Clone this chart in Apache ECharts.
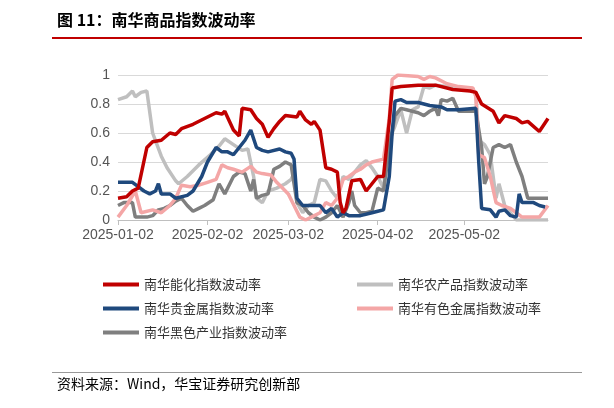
<!DOCTYPE html><html><head><meta charset="utf-8">
<script src="https://cdn.jsdelivr.net/npm/echarts@6/dist/echarts.min.js"></script>
<style>body{margin:0}#c{width:614px;height:408px}</style></head><body><div id="c"></div>
<script>
const tickDays=[0,31,59,90,120];
const tickLabels=['2025-01-02','2025-02-02','2025-03-02','2025-04-02','2025-05-02'];
const names=['南华能化指数波动率','南华农产品指数波动率','南华贵金属指数波动率','南华有色金属指数波动率','南华黑色产业指数波动率'];
const colors=['#C00000','#BFBFBF','#1F497D','#F4A6A6','#7F7F7F'];
const energy=[[0,.15],[3,.16],[5,.2],[7,.22],[10,.5],[12,.54],[15,.55],[18,.6],[20,.59],[22,.63],[26,.66],[30,.7],[34,.74],[36,.73],[37,.75],[40,.62],[42,.58],[43,.77],[46,.76],[48,.7],[50,.66],[52,.57],[54,.63],[56,.68],[58,.72],[62,.71],[63,.75],[65,.69],[67,.66],[68,.68],[70,.62],[72,.36],[74,.35],[76,.33],[77,.12],[78,.05],[79,.08],[81,.27],[84,.28],[86,.2],[88,.25],[90,.3],[92,.3],[94,.68],[95,.91],[98,.92],[104,.93],[110,.93],[116,.9],[122,.89],[124,.88],[126,.8],[130,.75],[132,.67],[134,.72],[138,.7],[140,.67],[142,.68],[146,.61],[149,.7]];
const agri=[[0,.83],[3,.85],[5,.89],[6,.85],[8,.88],[10,.89],[12,.6],[15,.44],[17,.36],[20,.27],[21,.25],[24,.3],[28,.38],[32,.45],[35,.51],[37,.56],[40,.52],[43,.48],[45,.49],[47,.3],[48,.15],[50,.12],[52,.2],[55,.22],[58,.25],[60,.28],[61,.32],[62,.12],[64,.05],[66,.1],[68,.12],[70,.28],[72,.27],[74,.2],[76,.15],[78,.3],[80,.28],[82,.33],[84,.38],[86,.41],[88,.36],[90,.3],[92,.22],[94,.55],[96,.65],[98,.76],[100,.6],[102,.76],[104,.78],[106,.92],[108,.91],[110,.93],[114,.92],[118,.91],[122,.9],[124,.88],[125,.55],[127,.52],[129,.45],[131,.15],[132,.25],[134,.1],[136,.05],[138,0],[149,0]];
const precious=[[0,.26],[5,.26],[7,.23],[9,.2],[11,.18],[13,.2],[14,.25],[15,.18],[18,.18],[20,.15],[24,.17],[26,.2],[29,.3],[31,.4],[34,.5],[36,.47],[38,.47],[40,.45],[42,.5],[44,.55],[46,.62],[48,.5],[50,.48],[52,.47],[56,.49],[58,.47],[60,.46],[61,.42],[62,.15],[64,.1],[66,.1],[68,.1],[70,.1],[72,.05],[74,.08],[76,.02],[78,.05],[80,.03],[84,.03],[88,.05],[90,.06],[92,.07],[94,.3],[95,.6],[96,.82],[98,.83],[100,.81],[104,.81],[108,.79],[112,.78],[114,.76],[118,.76],[124,.77],[125,.4],[126,.08],[129,.07],[131,.02],[132,.06],[134,.07],[136,.03],[138,.02],[139,.18],[140,.12],[144,.12],[146,.1],[148,.09]];
const nonferrous=[[0,.02],[3,.1],[6,.2],[8,.05],[12,.07],[15,.05],[18,.1],[20,.15],[22,.24],[25,.23],[28,.24],[31,.26],[34,.28],[36,.38],[38,.36],[40,.35],[43,.33],[46,.37],[48,.33],[50,.32],[53,.31],[55,.26],[57,.22],[59,.18],[61,.1],[63,.02],[65,0],[67,.02],[70,.05],[72,.12],[74,.1],[76,.15],[78,.28],[80,.3],[82,.33],[84,.35],[86,.38],[88,.4],[92,.42],[94,.7],[95,.97],[97,1],[104,.99],[106,.97],[108,.99],[110,.98],[114,.94],[118,.92],[123,.91],[124,.85],[125,.45],[127,.43],[129,.3],[131,.12],[133,.1],[136,.08],[138,.05],[140,.02],[146,.02],[149,.1]];
const ferrous=[[0,.1],[2,.12],[5,.12],[6,.02],[10,.02],[12,.03],[14,.07],[16,.08],[18,.1],[20,.13],[22,.15],[24,.1],[26,.06],[28,.08],[30,.1],[33,.14],[35,.25],[37,.18],[40,.3],[42,.33],[44,.32],[46,.2],[47,.28],[48,.15],[50,.17],[52,.18],[54,.35],[56,.37],[58,.4],[60,.38],[61,.25],[62,.12],[64,.1],[66,.05],[68,.02],[70,0],[72,.02],[74,.05],[76,.1],[78,.02],[80,.12],[81,.2],[82,.1],[84,.05],[86,.05],[88,.06],[90,.22],[92,.2],[94,.5],[96,.72],[98,.77],[100,.76],[104,.74],[106,.72],[108,.75],[110,.77],[111,.72],[112,.83],[114,.82],[116,.84],[118,.75],[122,.75],[124,.75],[126,.5],[127,.25],[128,.3],[130,.5],[132,.52],[134,.5],[136,.52],[138,.4],[140,.3],[142,.15],[146,.15],[149,.15]];
const seriesData=[energy,agri,precious,nonferrous,ferrous];
const order=[1,4,3,2,0];
const legendPos=[[98,273],[352,273],[98,297],[352,297],[98,321]];
const ch=echarts.init(document.getElementById('c'));
const font='"Noto Sans CJK SC",sans-serif';
ch.setOption({
 animation:false,
 graphic:[
  {type:'text',left:57,top:12,style:{text:'图 11：南华商品指数波动率',font:'bold 16px '+font,fill:'#000'}},
  {type:'rect',shape:{x:52,y:37,width:530,height:2},style:{fill:'#C00000'}},
  {type:'rect',shape:{x:52,y:372,width:530,height:1},style:{fill:'#999'}},
  {type:'text',left:57,top:377,style:{text:'资料来源：Wind，华宝证券研究创新部',font:'14px '+font,fill:'#000'}}
 ],
 legend:names.map((n,i)=>({data:[n],left:legendPos[i][0],top:legendPos[i][1],icon:'rect',itemWidth:36,itemHeight:4,itemGap:6,textStyle:{fontFamily:font,fontSize:13,color:'#333',letterSpacing:0.6}})),
 grid:{left:118,right:66,top:75,bottom:188},
 xAxis:{type:'value',min:0,max:149,
  axisLine:{lineStyle:{color:'#BFBFBF'}},
  axisTick:{show:true,customValues:tickDays,lineStyle:{color:'#BFBFBF'}},
  splitLine:{show:false},
  axisLabel:{customValues:tickDays,formatter:v=>tickLabels[tickDays.indexOf(v)],fontSize:14,color:'#555',fontFamily:'Liberation Sans'}},
 yAxis:{type:'value',min:0,max:1,interval:0.2,
  axisLabel:{fontSize:14,color:'#555',fontFamily:'Liberation Sans',formatter:v=>+v.toFixed(1)},
  splitLine:{lineStyle:{color:'#D9D9D9'}},axisLine:{show:false},axisTick:{show:false}},
 series:order.map(i=>({name:names[i],type:'line',data:seriesData[i],showSymbol:false,z:i===0?5:2,
  lineStyle:{width:3.5,color:colors[i]},itemStyle:{color:colors[i]}}))
});
</script></body></html>
